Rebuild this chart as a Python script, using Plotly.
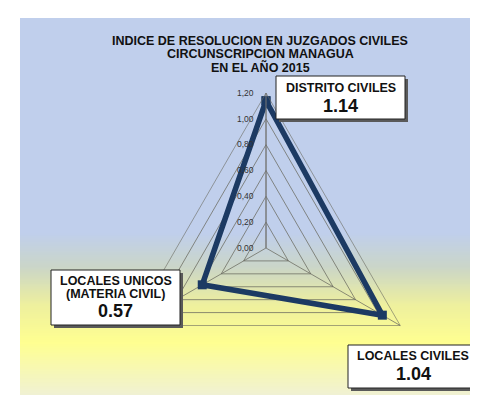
import base64
import struct
import zlib

import plotly.graph_objects as go

# data
categories = ["DISTRITO CIVILES", "LOCALES CIVILES", "LOCALES UNICOS"]
box_labels = [["DISTRITO CIVILES"], ["LOCALES CIVILES"], ["LOCALES UNICOS", "(MATERIA CIVIL)"]]
values = [1.14, 1.04, 0.57]
radial_ticks = [0.0, 0.2, 0.4, 0.6, 0.8, 1.0, 1.2]
radial_ticktext = ["0,00", "0,20", "0,40", "0,60", "0,80", "1,00", "1,20"]
title_lines = ["INDICE DE RESOLUCION EN JUZGADOS CIVILES",
               "CIRCUNSCRIPCION MANAGUA", "EN EL AÑO 2015"]

W, H = 478, 395
NAVY = "#1c3a63"
GRID = "rgba(105,105,95,0.75)"
FONT = "Liberation Sans, Arial, sans-serif"


def gradient_png(stops, height=200):
    """Tiny vertical-gradient PNG (1 px wide) as a data URI."""
    rows = b""
    for i in range(height):
        t = i / (height - 1)
        for (t0, c0), (t1, c1) in zip(stops, stops[1:]):
            if t0 <= t <= t1:
                f = 0 if t1 == t0 else (t - t0) / (t1 - t0)
                rgb = [round(a + (b - a) * f) for a, b in zip(c0, c1)]
                break
        rows += b"\x00" + bytes(rgb)

    def chunk(tag, data):
        c = struct.pack(">I", len(data)) + tag + data
        return c + struct.pack(">I", zlib.crc32(tag + data) & 0xFFFFFFFF)

    png = b"\x89PNG\r\n\x1a\n"
    png += chunk(b"IHDR", struct.pack(">IIBBBBB", 1, height, 8, 2, 0, 0, 0))
    png += chunk(b"IDAT", zlib.compress(rows))
    png += chunk(b"IEND", b"")
    return "data:image/png;base64," + base64.b64encode(png).decode()


# background stops as fraction of the chart-area height (top -> bottom)
bg = gradient_png([
    (0.00, (192, 207, 236)),
    (0.57, (192, 207, 236)),
    (0.66, (203, 214, 200)),
    (0.76, (238, 240, 158)),
    (0.86, (255, 255, 145)),
    (1.00, (240, 241, 212)),
])

fig = go.Figure(go.Scatterpolar(
    r=values + [values[0]],
    theta=categories + [categories[0]],
    mode="lines+markers",
    line=dict(color=NAVY, width=5.5),
    marker=dict(symbol="square", size=9, color=NAVY),
    hoverinfo="skip",
))

cx, cy, rad = 258, 240, 155
fig.update_layout(
    width=W, height=H,
    margin=dict(l=0, r=0, t=0, b=0),
    paper_bgcolor="white",
    showlegend=False,
    font=dict(family=FONT, color="#111111"),
    polar=dict(
        domain=dict(x=[(cx - rad) / W, (cx + rad) / W],
                    y=[(H - cy - rad) / H, (H - cy + rad) / H]),
        bgcolor="rgba(0,0,0,0)",
        gridshape="linear",
        radialaxis=dict(
            range=[0, 1.2], tickvals=radial_ticks, ticktext=radial_ticktext,
            angle=90, tickangle=90, side="counterclockwise",
            showline=True, linecolor="#777777", linewidth=1,
            gridcolor=GRID, gridwidth=0.7,
            ticks="outside", ticklen=9, tickcolor="rgba(0,0,0,0)",
            tickfont=dict(size=8.5, color="#333333"),
        ),
        angularaxis=dict(
            rotation=90, direction="clockwise",
            showticklabels=False, ticks="",
            linecolor=GRID, linewidth=0.8,
            gridcolor=GRID, gridwidth=0.7,
        ),
    ),
    images=[dict(
        source=bg, xref="paper", yref="paper",
        x=12 / W, y=1 - 10 / H, sizex=460 / W, sizey=378 / H,
        xanchor="left", yanchor="top", sizing="stretch", layer="below",
    )],
)

for i, line in enumerate(title_lines):
    fig.add_annotation(
        text=f"<b>{line}</b>", xref="paper", yref="paper",
        x=252 / W, y=1 - (33 + 13 * i) / H, xanchor="center", yanchor="middle",
        showarrow=False, font=dict(size=12.5, color="#111111", family=FONT),
    )

# label boxes: left, top, width, height, label-line centres, number centre (px)
boxes = [
    (268, 68, 129, 43, [80], 98),
    (340, 337, 130, 43, [348], 366),
    (43, 262, 129, 55, [273, 286], 303),
]
for lines, v, (bx, by, bw, bh, ly, ny) in zip(box_labels, values, boxes):
    fig.add_shape(type="rect", xref="paper", yref="paper",
                  x0=(bx + 3) / W, x1=(bx + bw + 3) / W,
                  y0=1 - (by + 3) / H, y1=1 - (by + bh + 3) / H,
                  fillcolor="#5a5a5a", line_width=0, layer="above")
    fig.add_shape(type="rect", xref="paper", yref="paper",
                  x0=bx / W, x1=(bx + bw) / W, y0=1 - by / H, y1=1 - (by + bh) / H,
                  fillcolor="white", line=dict(color="#222222", width=1), layer="above")
    xc = (bx + bw / 2) / W
    for text, yy in zip(lines, ly):
        fig.add_annotation(
            text=f"<b>{text}</b>", xref="paper", yref="paper", x=xc, y=1 - yy / H,
            xanchor="center", yanchor="middle", showarrow=False,
            font=dict(size=12.5, color="#111111", family=FONT),
        )
    fig.add_annotation(
        text=f"<b>{v:.2f}</b>", xref="paper", yref="paper", x=xc, y=1 - ny / H,
        xanchor="center", yanchor="middle", showarrow=False,
        font=dict(size=18, color="#111111", family=FONT),
    )

fig.write_html("out.html")
